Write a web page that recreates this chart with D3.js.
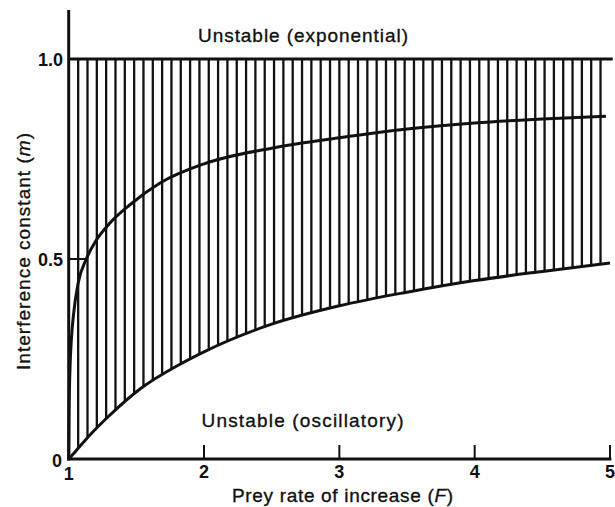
<!DOCTYPE html>
<html><head><meta charset="utf-8">
<script src="https://cdn.jsdelivr.net/npm/d3@7"></script>
<style>body{margin:0;background:#fff}svg{display:block}text{font-family:"Liberation Sans",Arial,sans-serif;fill:#111}text.reg{stroke:#111;stroke-width:0.35px}</style>
</head><body><svg id="c" width="615" height="507"></svg>
<script>
// Data
const xTicks = [1, 2, 3, 4, 5];
const yTicks = [0, 0.5, 1.0];
const yTickLabels = ["0", "0.5", "1.0"];
// Lower boundary (stable / unstable oscillatory)
const lowerF = [1.0, 1.05, 1.157, 1.305, 1.527, 1.823, 2.0, 2.5, 3.0, 3.5, 4.0, 4.5, 5.0];
const lowerM = [0.0, 0.019, 0.06, 0.11, 0.175, 0.237, 0.268, 0.337, 0.383, 0.417, 0.446, 0.469, 0.49];
// Upper curve (within stable region)
const upperF = [1.0, 1.003, 1.01, 1.02, 1.034, 1.07, 1.13, 1.2, 1.305, 1.45, 1.675, 2.0, 2.5, 3.0, 3.5, 4.0, 4.5, 4.97];
const upperM = [0.0, 0.12, 0.23, 0.3, 0.356, 0.44, 0.5, 0.545, 0.59, 0.635, 0.69, 0.738, 0.777, 0.803, 0.825, 0.84, 0.85, 0.857];
const hatchCount = 57, hatchStart = 1.07, hatchEnd = 4.93;

const svg = d3.select("#c");
const ink = "#111";
const x = d3.scaleLinear().domain([1, 5]).range([68.7, 610]);
const y = d3.scaleLinear().domain([0, 1]).range([459, 59]);

// clip region: between lower curve and m = 1
const lowerPts = lowerF.map((f, i) => [f, lowerM[i]]);
const upperPts = upperF.map((f, i) => [f, upperM[i]]);
const area = d3.area().x(d => x(d[0])).y0(d => y(d[1])).y1(y(1)).curve(d3.curveMonotoneX);
svg.append("clipPath").attr("id", "stable").append("path").attr("d", area(lowerPts));

const hatchF = d3.range(hatchCount).map(i => hatchStart + i * (hatchEnd - hatchStart) / (hatchCount - 1));
svg.append("g").attr("clip-path", "url(#stable)").selectAll("line").data(hatchF).join("line")
  .attr("x1", d => x(d)).attr("x2", d => x(d)).attr("y1", y(1)).attr("y2", y(0))
  .attr("stroke", ink).attr("stroke-width", 2.3);

const line = d3.line().x(d => x(d[0])).y(d => y(d[1])).curve(d3.curveMonotoneX);
svg.append("path").attr("d", line(lowerPts)).attr("fill", "none").attr("stroke", ink).attr("stroke-width", 3);
svg.append("path").attr("d", line(upperPts)).attr("fill", "none").attr("stroke", ink).attr("stroke-width", 3);

// m = 1 boundary line
svg.append("line").attr("x1", x(1)).attr("x2", x(5.02)).attr("y1", y(1)).attr("y2", y(1))
  .attr("stroke", ink).attr("stroke-width", 3);

// axes
svg.append("line").attr("x1", x(1)).attr("x2", x(1)).attr("y1", 10).attr("y2", y(0) + 1.5)
  .attr("stroke", ink).attr("stroke-width", 3);
svg.append("line").attr("x1", x(1) - 1.5).attr("x2", x(5.01)).attr("y1", y(0)).attr("y2", y(0))
  .attr("stroke", ink).attr("stroke-width", 3);

// x ticks (inward)
svg.append("g").selectAll("line").data(xTicks.slice(1)).join("line")
  .attr("x1", d => x(d)).attr("x2", d => x(d)).attr("y1", y(0)).attr("y2", y(0) - 14)
  .attr("stroke", ink).attr("stroke-width", 2);
svg.append("g").selectAll("text").data(xTicks).join("text")
  .attr("x", d => x(d)).attr("y", d => d === 1 ? 480 : 478).attr("text-anchor", "middle")
  .attr("font-size", 18).attr("font-weight", "bold").text(d => d);

// y tick at 0.5 (inward)
svg.append("line").attr("x1", x(1)).attr("x2", x(1) + 19).attr("y1", y(0.5)).attr("y2", y(0.5))
  .attr("stroke", ink).attr("stroke-width", 2);
svg.append("g").selectAll("text").data(yTicks).join("text")
  .attr("x", d => d === 0 ? 62 : 63).attr("y", d => d === 0 ? y(d) + 8 : y(d) + 7)
  .attr("text-anchor", "end").attr("font-size", 18).attr("font-weight", "bold")
  .text((d, i) => yTickLabels[i]);

// axis titles
const xt = svg.append("text").attr("class", "reg").attr("x", 342.5).attr("y", 502).attr("text-anchor", "middle")
  .attr("font-size", 19).attr("textLength", 221).attr("lengthAdjust", "spacing");
xt.append("tspan").text("Prey rate of increase (");
xt.append("tspan").attr("font-style", "italic").text("F");
xt.append("tspan").text(")");

const yt = svg.append("text").attr("class", "reg").attr("transform", "translate(30,251.5) rotate(-90)").attr("text-anchor", "middle")
  .attr("font-size", 19).attr("textLength", 237).attr("lengthAdjust", "spacing");
yt.append("tspan").text("Interference constant (");
yt.append("tspan").attr("font-style", "italic").text("m");
yt.append("tspan").text(")");

// region labels
svg.append("text").attr("class", "reg").attr("x", 303).attr("y", 42).attr("text-anchor", "middle")
  .attr("font-size", 19).attr("textLength", 210).attr("lengthAdjust", "spacing").text("Unstable (exponential)");
svg.append("text").attr("class", "reg").attr("x", 302.5).attr("y", 426.5).attr("text-anchor", "middle")
  .attr("font-size", 19).attr("textLength", 202).attr("lengthAdjust", "spacing").text("Unstable (oscillatory)");
</script></body></html>
